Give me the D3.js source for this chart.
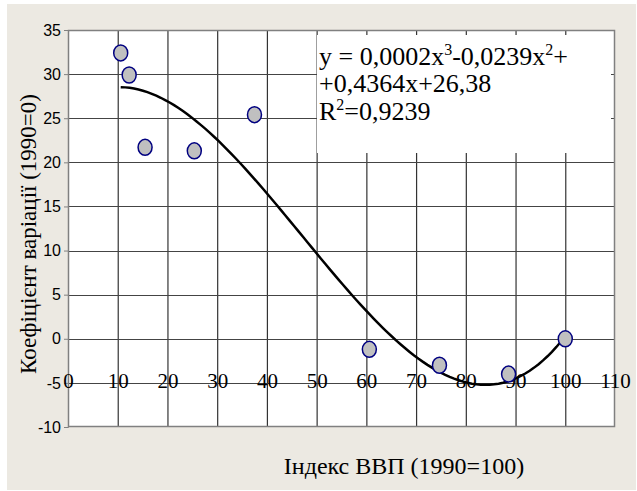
<!DOCTYPE html>
<html><head><meta charset="utf-8">
<script src="https://cdn.jsdelivr.net/npm/d3@7"></script>
<style>body{margin:0;background:#fff}svg{display:block}</style>
</head><body>
<script>
const xValues = [10.6, 12.3, 15.5, 25.4, 37.5, 60.6, 74.7, 88.6, 100];
const yValues = [32.4, 29.9, 21.7, 21.3, 25.4, -1.2, -3.0, -4.0, 0];
const xTicks = [0,10,20,30,40,50,60,70,80,90,100,110];
const yTicks = [-10,-5,0,5,10,15,20,25,30,35];
const equationLines = ["y = 0,0002x", "3", "-0,0239x", "2", "+"];
const equationLine2 = "+0,4364x+26,38";
const r2Label = ["R", "2", "=0,9239"];
const xTitle = "Індекс ВВП (1990=100)";
const yTitle = "Коефіцієнт варіації (1990=0)";

const W = 637, H = 491;
const serif = "Liberation Serif";
const sans = "Liberation Sans";
const svg = d3.select("body").append("svg").attr("width", W).attr("height", H);
svg.append("rect").attr("x",7).attr("y",4).attr("width",629).attr("height",486).attr("fill","#ECE9E2");

const L = 68, R = 615, T = 30, B = 427;
const x = d3.scaleLinear().domain([0,110]).range([L,R]);
const y = d3.scaleLinear().domain([-10,35]).range([B,T]);

svg.append("rect").attr("x",L).attr("y",T).attr("width",R-L).attr("height",B-T).attr("fill","#fff");

// gridlines
const g = svg.append("g");
g.selectAll(".vg").data(xTicks.slice(1,-1)).join("line")
  .attr("x1",d=>x(d)+0.5).attr("x2",d=>x(d)+0.5).attr("y1",T).attr("y2",B)
  .attr("stroke","#333").attr("stroke-width",1.2);
g.selectAll(".hg").data(yTicks.slice(1,-1)).join("line")
  .attr("y1",d=>Math.round(y(d))+0.5).attr("y2",d=>Math.round(y(d))+0.5).attr("x1",L).attr("x2",R)
  .attr("stroke","#444").attr("stroke-width",1.2);

// equation box covering grid
svg.append("rect").attr("x",317).attr("y",35).attr("width",294).attr("height",118).attr("fill","#fff");

// border
svg.append("rect").attr("x",L+0.5).attr("y",T+0.5).attr("width",R-L-1).attr("height",B-T-1)
  .attr("fill","none").attr("stroke","#808080").attr("stroke-width",1.5);

// y axis
const yAxis = d3.axisLeft(y).tickValues(yTicks).tickSize(4).tickPadding(3).tickFormat(d=>String(d));
const ya = svg.append("g").attr("transform",`translate(${L},0)`).call(yAxis);
ya.attr("font-family",sans);
ya.select(".domain").attr("stroke","#808080");
ya.selectAll(".tick line").attr("stroke","#808080");
ya.selectAll("text").style("font-family",sans).attr("font-size",16).attr("fill","#000");

// x tick labels
const xAxis = d3.axisBottom(x).tickValues(xTicks).tickSize(0).tickPadding(0).tickFormat(d=>String(d));
const xa = svg.append("g").attr("transform",`translate(0,${y(-5)-10})`).call(xAxis);
xa.attr("font-family",serif);
xa.select(".domain").remove();
xa.selectAll("text").style("font-family",serif).attr("font-size",21).attr("fill","#000");

// trend line: least-squares cubic fit of the data
function polyfit(xs, ys, deg){
  const n = deg+1;
  const A = Array.from({length:n},()=>Array(n+1).fill(0));
  for(let i=0;i<xs.length;i++){
    for(let r=0;r<n;r++){
      for(let c=0;c<n;c++) A[r][c]+=Math.pow(xs[i],r+c);
      A[r][n]+=ys[i]*Math.pow(xs[i],r);
    }
  }
  for(let k=0;k<n;k++){
    let p=k; for(let r=k+1;r<n;r++) if(Math.abs(A[r][k])>Math.abs(A[p][k])) p=r;
    [A[k],A[p]]=[A[p],A[k]];
    for(let r=0;r<n;r++){ if(r===k) continue; const f=A[r][k]/A[k][k]; for(let c=k;c<=n;c++) A[r][c]-=f*A[k][c]; }
  }
  return A.map((row,i)=>row[n]/row[i]);
}
const coef = polyfit(xValues, yValues, 3);
const fx = v => coef[0]+coef[1]*v+coef[2]*v*v+coef[3]*v*v*v;
const xmin = d3.min(xValues), xmax = d3.max(xValues);
const curve = d3.range(0,101).map(i=>{const v=xmin+(xmax-xmin)*i/100; return [v,fx(v)];});
svg.append("path").datum(curve)
  .attr("d", d3.line().x(d=>x(d[0])).y(d=>y(d[1])).curve(d3.curveLinear))
  .attr("fill","none").attr("stroke","#000").attr("stroke-width",2.5);

// points
svg.selectAll(".pt").data(xValues.map((v,i)=>[v,yValues[i]])).join("ellipse")
  .attr("cx",d=>x(d[0])).attr("cy",d=>y(d[1])).attr("rx",7).attr("ry",8)
  .attr("fill","#C0C0C0").attr("stroke","#000080").attr("stroke-width",1.5);

// equation text
const eqSize = 26, supSize = 16;
const t1 = svg.append("text").attr("x",319).attr("y",65).style("font-family",serif).attr("font-size",eqSize);
t1.append("tspan").text(equationLines[0]);
t1.append("tspan").attr("dy",-10).attr("font-size",supSize).text(equationLines[1]);
t1.append("tspan").attr("dy",10).text(equationLines[2]);
t1.append("tspan").attr("dy",-10).attr("font-size",supSize).text(equationLines[3]);
t1.append("tspan").attr("dy",10).text(equationLines[4]);
svg.append("text").attr("x",319).attr("y",92).style("font-family",serif).attr("font-size",eqSize).text(equationLine2);
const t3 = svg.append("text").attr("x",319).attr("y",120).style("font-family",serif).attr("font-size",eqSize);
t3.append("tspan").text(r2Label[0]);
t3.append("tspan").attr("dy",-10).attr("font-size",supSize).text(r2Label[1]);
t3.append("tspan").attr("dy",10).text(r2Label[2]);

// titles
svg.append("text").attr("x",404).attr("y",474).attr("text-anchor","middle")
  .style("font-family",serif).attr("font-size",24).text(xTitle);
svg.append("text").attr("transform","translate(36,234) rotate(-90)").attr("text-anchor","middle")
  .style("font-family",serif).attr("font-size",23).text(yTitle);
</script>
</body></html>
